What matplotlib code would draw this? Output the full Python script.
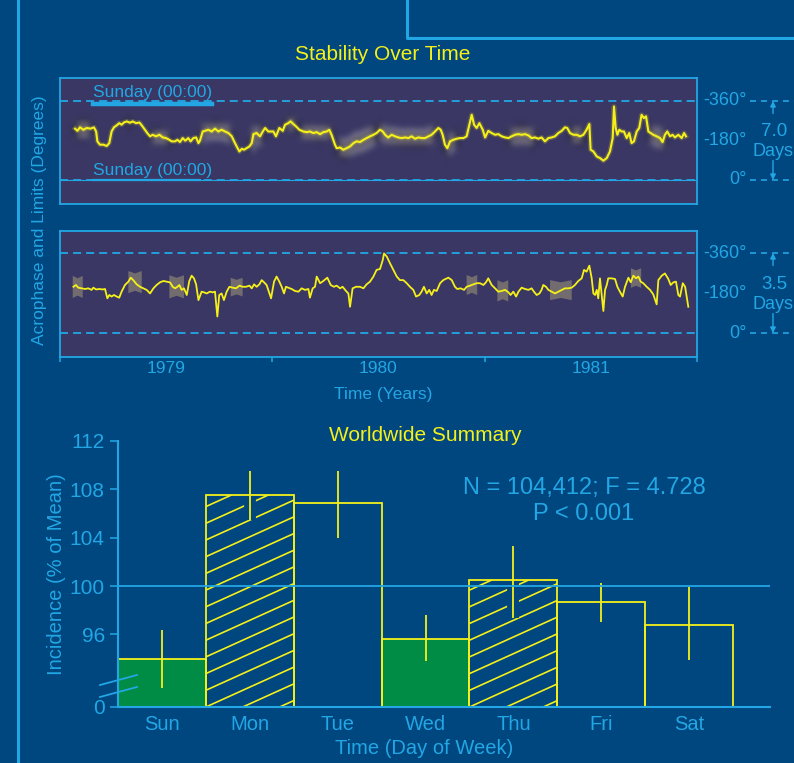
import numpy as np
import matplotlib
matplotlib.use("Agg")
import matplotlib.pyplot as plt
import matplotlib.transforms as mtransforms
import matplotlib.patheffects as pe
from matplotlib.lines import Line2D
from matplotlib.patches import Rectangle, Polygon

plt.rcParams['font.family'] = ['Liberation Sans', 'DejaVu Sans']
plt.rcParams['lines.scale_dashes'] = False

W, H = 794, 763
BG = '#00467f'
PANEL = '#3a3764'
CYAN = '#22a7e4'
YELLOW = '#f5f01a'
GREEN = '#008c44'
BAND = '#7d7670'

# ---------------- 7-day acrophase series (years, degrees) ----------------
t_week = [
    1979.071, 1979.082, 1979.094, 1979.110, 1979.126, 1979.144, 1979.160, 1979.170, 1979.176, 1979.188,
    1979.204, 1979.220, 1979.232, 1979.243, 1979.254, 1979.267, 1979.279, 1979.290, 1979.301, 1979.314,
    1979.330, 1979.342, 1979.358, 1979.374, 1979.385, 1979.400, 1979.411, 1979.424, 1979.436, 1979.452,
    1979.468, 1979.484, 1979.499, 1979.515, 1979.526, 1979.542, 1979.553, 1979.565, 1979.578, 1979.590,
    1979.604, 1979.615, 1979.628, 1979.641, 1979.652, 1979.659, 1979.672, 1979.683, 1979.699, 1979.714,
    1979.730, 1979.746, 1979.761, 1979.777, 1979.793, 1979.809, 1979.820, 1979.832, 1979.845, 1979.856,
    1979.867, 1979.879, 1979.892, 1979.903, 1979.911, 1979.926, 1979.942, 1979.955, 1979.966, 1979.981,
    1980.005, 1980.017, 1980.033, 1980.049, 1980.060, 1980.075, 1980.086, 1980.099, 1980.112, 1980.127,
    1980.146, 1980.162, 1980.177, 1980.193, 1980.209, 1980.225, 1980.240, 1980.256, 1980.268, 1980.279,
    1980.295, 1980.303, 1980.319, 1980.334, 1980.350, 1980.366, 1980.382, 1980.397, 1980.413, 1980.429,
    1980.444, 1980.460, 1980.476, 1980.491, 1980.507, 1980.520, 1980.531, 1980.546, 1980.562, 1980.578,
    1980.593, 1980.609, 1980.625, 1980.641, 1980.656, 1980.672, 1980.688, 1980.703, 1980.719, 1980.735,
    1980.750, 1980.766, 1980.782, 1980.793, 1980.802, 1980.813, 1980.824, 1980.837, 1980.852, 1980.868,
    1980.884, 1980.900, 1980.915, 1980.928, 1980.939, 1980.950, 1980.962, 1980.975, 1980.991, 1981.002,
    1981.017, 1981.033, 1981.049, 1981.064, 1981.080, 1981.096, 1981.112, 1981.127, 1981.143, 1981.159,
    1981.174, 1981.190, 1981.206, 1981.221, 1981.237, 1981.253, 1981.268, 1981.284, 1981.300, 1981.316,
    1981.331, 1981.347, 1981.363, 1981.378, 1981.389, 1981.402, 1981.418, 1981.433, 1981.449, 1981.465,
    1981.480, 1981.493, 1981.499, 1981.512, 1981.528, 1981.543, 1981.559, 1981.575, 1981.590, 1981.603,
    1981.609, 1981.617, 1981.625, 1981.634, 1981.645, 1981.656, 1981.669, 1981.681, 1981.692, 1981.703,
    1981.716, 1981.728, 1981.739, 1981.750, 1981.760, 1981.771, 1981.782, 1981.794, 1981.810, 1981.826,
    1981.838, 1981.849, 1981.860, 1981.873, 1981.885, 1981.896, 1981.912, 1981.928, 1981.939, 1981.948,
]
phase_week = [
    -234, -224, -240, -229, -237, -234, -240, -221, -176, -161,
    -161, -155, -168, -221, -240, -249, -259, -252, -262, -267,
    -261, -267, -259, -262, -249, -229, -214, -199, -206, -199,
    -206, -194, -191, -183, -176, -176, -183, -173, -191, -179,
    -191, -176, -191, -194, -168, -179, -221, -224, -229, -221,
    -234, -221, -229, -221, -214, -199, -176, -153, -130, -142,
    -138, -145, -153, -168, -209, -214, -199, -221, -237, -221,
    -221, -199, -237, -224, -252, -259, -267, -255, -244, -229,
    -221, -218, -221, -214, -218, -209, -218, -221, -229, -206,
    -161, -145, -148, -138, -145, -153, -168, -176, -173, -183,
    -191, -199, -206, -214, -229, -221, -206, -194, -206, -199,
    -194, -191, -194, -191, -199, -188, -194, -191, -191, -199,
    -206, -221, -237, -229, -206, -161, -145, -176, -183, -188,
    -191, -191, -199, -252, -297, -252, -237, -259, -229, -194,
    -224, -214, -206, -209, -199, -194, -191, -199, -206, -209,
    -206, -209, -203, -191, -194, -188, -194, -176, -191, -194,
    -199, -214, -224, -240, -237, -214, -206, -206, -199, -206,
    -229, -255, -138, -130, -107, -100, -88, -100, -130, -191,
    -335, -237, -206, -229, -221, -221, -191, -214, -168, -176,
    -221, -237, -297, -282, -290, -221, -214, -206, -199, -191,
    -173, -206, -221, -199, -206, -194, -206, -191, -214, -199,
]
# confidence-limit spans for the 7-day series: (start, end, half-width in degrees)
week_limits = [
    (1979.063, 1979.157, 40), (1979.306, 1979.338, 30), (1979.424, 1979.518, 30),
    (1979.659, 1979.816, 35), (1979.880, 1979.965, 40), (1980.052, 1980.115, 30),
    (1980.115, 1980.287, 30), (1980.303, 1980.491, 40), (1980.491, 1980.774, 35),
    (1980.805, 1980.868, 40), (1981.104, 1981.245, 40), (1981.394, 1981.465, 40),
    (1981.771, 1981.849, 40),
]

# ---------------- 3.5-day acrophase series (years, degrees) ----------------
t_half = [
    1979.063, 1979.075, 1979.086, 1979.102, 1979.118, 1979.133, 1979.149, 1979.157, 1979.170, 1979.185,
    1979.201, 1979.212, 1979.223, 1979.232, 1979.243, 1979.254, 1979.267, 1979.279, 1979.290, 1979.306,
    1979.322, 1979.333, 1979.345, 1979.361, 1979.377, 1979.393, 1979.408, 1979.424, 1979.440, 1979.455,
    1979.471, 1979.487, 1979.502, 1979.518, 1979.531, 1979.542, 1979.553, 1979.562, 1979.573, 1979.584,
    1979.597, 1979.609, 1979.620, 1979.631, 1979.641, 1979.652, 1979.667, 1979.678, 1979.691, 1979.706,
    1979.719, 1979.730, 1979.741, 1979.750, 1979.761, 1979.772, 1979.785, 1979.798, 1979.813, 1979.829,
    1979.845, 1979.860, 1979.876, 1979.892, 1979.903, 1979.914, 1979.926, 1979.939, 1979.950, 1979.961,
    1979.973, 1979.994, 1980.008, 1980.020, 1980.033, 1980.044, 1980.055, 1980.064, 1980.075, 1980.091,
    1980.107, 1980.123, 1980.138, 1980.154, 1980.170, 1980.177, 1980.190, 1980.201, 1980.209, 1980.225,
    1980.240, 1980.259, 1980.275, 1980.290, 1980.303, 1980.319, 1980.331, 1980.347, 1980.358, 1980.366,
    1980.378, 1980.394, 1980.413, 1980.429, 1980.444, 1980.460, 1980.476, 1980.491, 1980.507, 1980.520,
    1980.526, 1980.539, 1980.554, 1980.570, 1980.586, 1980.601, 1980.617, 1980.633, 1980.648, 1980.664,
    1980.677, 1980.692, 1980.703, 1980.714, 1980.727, 1980.739, 1980.750, 1980.761, 1980.774, 1980.790,
    1980.805, 1980.829, 1980.845, 1980.860, 1980.871, 1980.887, 1980.903, 1980.915, 1980.931, 1980.947,
    1980.962, 1980.978, 1980.994, 1981.006, 1981.017, 1981.033, 1981.049, 1981.064, 1981.080, 1981.096,
    1981.112, 1981.122, 1981.135, 1981.148, 1981.159, 1981.174, 1981.190, 1981.206, 1981.221, 1981.232,
    1981.245, 1981.258, 1981.268, 1981.276, 1981.289, 1981.300, 1981.316, 1981.331, 1981.347, 1981.363,
    1981.378, 1981.394, 1981.410, 1981.425, 1981.441, 1981.457, 1981.468, 1981.480, 1981.493, 1981.504,
    1981.512, 1981.520, 1981.528, 1981.535, 1981.543, 1981.551, 1981.559, 1981.567, 1981.575, 1981.582,
    1981.598, 1981.614, 1981.625, 1981.637, 1981.650, 1981.661, 1981.677, 1981.688, 1981.700, 1981.713,
    1981.724, 1981.735, 1981.747, 1981.763, 1981.779, 1981.794, 1981.810, 1981.818, 1981.834, 1981.849,
    1981.865, 1981.876, 1981.889, 1981.901, 1981.912, 1981.920, 1981.933, 1981.944, 1981.959,
]
phase_half = [
    -208, -216, -204, -201, -198, -201, -194, -204, -196, -198,
    -196, -198, -156, -171, -164, -171, -164, -159, -186, -216,
    -231, -249, -238, -219, -208, -201, -194, -178, -201, -216,
    -228, -234, -231, -228, -208, -201, -208, -216, -194, -201,
    -171, -234, -258, -246, -219, -148, -186, -183, -178, -186,
    -183, -186, -74, -171, -178, -148, -186, -208, -204, -201,
    -213, -208, -208, -213, -201, -219, -208, -219, -238, -228,
    -216, -156, -231, -254, -231, -208, -178, -208, -204, -198,
    -189, -186, -201, -194, -198, -159, -201, -208, -254, -224,
    -234, -249, -216, -208, -213, -201, -208, -189, -178, -118,
    -201, -208, -208, -201, -219, -231, -254, -284, -288, -328,
    -358, -344, -314, -284, -254, -238, -238, -224, -208, -194,
    -164, -171, -186, -208, -178, -194, -171, -194, -189, -224,
    -238, -249, -238, -208, -198, -201, -194, -208, -213, -219,
    -224, -224, -216, -228, -246, -216, -201, -186, -189, -194,
    -183, -171, -186, -164, -186, -204, -198, -194, -201, -186,
    -171, -178, -194, -216, -208, -194, -186, -178, -186, -194,
    -201, -201, -204, -216, -234, -246, -284, -276, -303, -246,
    -178, -171, -194, -156, -246, -171, -99, -194, -216, -246,
    -246, -243, -208, -186, -164, -208, -249, -228, -258, -246,
    -254, -231, -224, -208, -194, -174, -129, -238, -258, -268,
    -243, -216, -228, -231, -171, -164, -224, -208, -118,
]
# confidence-limit markers for the 3.5-day series: (start, end, half-width in degrees)
half_limits = [
    (1979.060, 1979.107, 50), (1979.322, 1979.385, 50), (1979.515, 1979.584, 52),
    (1979.804, 1979.860, 42), (1980.915, 1980.965, 45), (1981.060, 1981.111, 48),
    (1981.308, 1981.410, 45), (1981.689, 1981.737, 44),
]

year_edges = [1979, 1980, 1981, 1982]
year_labels = ['1979', '1980', '1981']
phase_ticks = [-360, -180, 0]
phase_labels = ['-360°', '-180°', '0°']

# ---------------- day-of-week summary ----------------
days = ['Sun', 'Mon', 'Tue', 'Wed', 'Thu', 'Fri', 'Sat']
incidence = [94.0, 107.5, 106.9, 95.6, 100.5, 98.7, 96.8]
ci_low = [91.6, 105.5, 104.0, 93.8, 97.4, 97.0, 93.9]
ci_high = [96.4, 109.5, 109.5, 97.6, 103.3, 100.25, 99.9]
day_style = ['green', 'hatch', 'open', 'green', 'hatch', 'open', 'open']
y_ticks = [90, 96, 100, 104, 108, 112]
y_ticklabels = ['0', '96', '100', '104', '108', '112']


def fx(px):
    return px / W


def fy(py):
    return 1 - py / H


def blur(sigma_px):
    def _f(im, dpi):
        r = int(np.ceil(3 * sigma_px))
        x = np.arange(-r, r + 1)
        k = np.exp(-x ** 2 / (2.0 * sigma_px ** 2))
        k /= k.sum()
        p = np.pad(im, ((r, r), (r, r), (0, 0)))
        p = np.apply_along_axis(lambda m: np.convolve(m, k, mode='same'), 0, p)
        p = np.apply_along_axis(lambda m: np.convolve(m, k, mode='same'), 1, p)
        return p, -r, -r
    return _f


fig = plt.figure(figsize=(W / 100, H / 100), dpi=100, facecolor=BG)

# frame decoration
fig.add_artist(Line2D([fx(17.5), fx(17.5)], [0, 1], color=CYAN, lw=2.2, transform=fig.transFigure))
fig.add_artist(Line2D([fx(407), fx(407), 1.0], [1.0, fy(38), fy(38)], color=CYAN, lw=2.2,
                      transform=fig.transFigure))

dash = (5.8, 3.6)


def phase_panel(ax, ylim, period_text, days_y):
    ax.set_facecolor(PANEL)
    ax.set_xlim(year_edges[0], year_edges[-1])
    ax.set_ylim(*ylim)
    for sp in ax.spines.values():
        sp.set_color(CYAN)
        sp.set_linewidth(1.3)
    ax.set_yticks([])
    ax.axhline(-360, color=CYAN, lw=1.3, dashes=dash, zorder=1)
    ax.axhline(0, color=CYAN, lw=1.3, dashes=dash, zorder=1)
    tr = mtransforms.blended_transform_factory(fig.transFigure, ax.transData)
    for val, lab in zip(phase_ticks, phase_labels):
        ax.text(fx(747), val, lab, transform=tr, ha='right', va='center', color=CYAN,
                fontsize=13, clip_on=False)
    for val in (-360, 0):
        ax.add_line(Line2D([fx(750), 1.0], [val, val], transform=tr, color=CYAN, lw=1.2,
                           dashes=(4.3, 3.6), clip_on=False))
    ax.annotate('', xy=(fx(773), -360), xycoords=tr, xytext=(0, -9), textcoords='offset points',
                arrowprops=dict(arrowstyle='-|>', color=CYAN, lw=1.0, mutation_scale=8,
                                shrinkA=0, shrinkB=0), annotation_clip=False)
    ax.annotate('', xy=(fx(773), 0), xycoords=tr, xytext=(0, 14), textcoords='offset points',
                arrowprops=dict(arrowstyle='-|>', color=CYAN, lw=1.0, mutation_scale=8,
                                shrinkA=0, shrinkB=0), annotation_clip=False)
    fig.text(fx(774), fy(days_y[0]), period_text, ha='center', va='center', color=CYAN, fontsize=13.5)
    fig.text(fx(793), fy(days_y[1]), 'Days', ha='right', va='center', color=CYAN, fontsize=13)


# ---- 7-day panel ----
ax1 = fig.add_axes([fx(60), fy(204), 637 / W, 126 / H])
phase_panel(ax1, (109.4, -464.8), '7.0', (132, 151))
ax1.set_xticks([])
tw = np.array(t_week)
pw = np.array(phase_week)
for a, b, hw in week_limits:
    m = (tw >= a) & (tw <= b)
    band = ax1.fill_between(tw[m], pw[m] - hw, pw[m] + hw, color=BAND, alpha=0.7, lw=0, zorder=2)
    band.set_agg_filter(blur(2.5))
ax1.plot(tw, pw, color=YELLOW, lw=1.5, zorder=3,
         path_effects=[pe.Stroke(linewidth=3.6, foreground=YELLOW, alpha=0.18), pe.Normal()])
ax1.axhline(0, color=CYAN, lw=0.8, zorder=1)
fig.text(fx(93), fy(97), 'Sunday (00:00)', color=CYAN, fontsize=12.5, va='baseline')
fig.text(fx(93), fy(175), 'Sunday (00:00)', color=CYAN, fontsize=12.5, va='baseline')
fig.add_artist(Line2D([fx(93), fx(212)], [fy(103.5), fy(103.5)], color=CYAN, lw=3.2,
                      transform=fig.transFigure))
fig.add_artist(Line2D([fx(93), fx(200)], [fy(180), fy(180)], color=CYAN, lw=1.6,
                      transform=fig.transFigure))

# ---- 3.5-day panel ----
ax2 = fig.add_axes([fx(60), fy(357), 637 / W, 126 / H])
phase_panel(ax2, (108, -459), '3.5', (285, 305))
th = np.array(t_half)
ph = np.array(phase_half)
for a, b, hw in half_limits:
    m = (th >= a) & (th <= b)
    c = ph[m].mean()
    tm = 0.5 * (a + b)
    ax2.add_patch(Polygon([(a, c - hw), (tm, c - 0.78 * hw), (b, c - hw),
                           (b, c + hw), (tm, c + 0.78 * hw), (a, c + hw)],
                          closed=True, facecolor=BAND, edgecolor='none', alpha=0.85, zorder=2))
ax2.plot(th, ph, color=YELLOW, lw=1.3, zorder=3)
ax2.set_xticks(year_edges)
ax2.set_xticklabels([])
ax2.set_xticks([y + 0.5 for y in year_edges[:-1]], minor=True)
ax2.set_xticklabels(year_labels, minor=True)
ax2.tick_params(axis='x', which='major', length=3.6, width=1.1, color=CYAN, direction='out')
ax2.tick_params(axis='x', which='minor', length=0, pad=3, labelsize=12.5, labelcolor=CYAN)

fig.text(fx(383), fy(55), 'Stability Over Time', ha='center', va='center', color=YELLOW, fontsize=15)
fig.text(fx(40), fy(220), 'Acrophase and Limits (Degrees)', rotation=90, ha='center', va='center',
         color=CYAN, fontsize=12.5)
fig.text(fx(383), fy(394), 'Time (Years)', ha='center', va='center', color=CYAN, fontsize=12.5)

# ---------------- bar chart ----------------
axb = fig.add_axes([fx(118), fy(707), 652 / W, 266 / H])
axb.set_facecolor('none')
axb.set_xlim(-0.5, 6.92)
axb.set_ylim(90, 112)
for s in ('top', 'right'):
    axb.spines[s].set_visible(False)
for s in ('left', 'bottom'):
    axb.spines[s].set_color(CYAN)
    axb.spines[s].set_linewidth(1.5)
    axb.spines[s].set_zorder(6)
axb.set_yticks(y_ticks)
axb.set_yticklabels(y_ticklabels)
axb.set_xticks(range(len(days)))
axb.set_xticklabels(days)
axb.tick_params(axis='y', length=5.5, width=1.1, color=CYAN, labelcolor=CYAN, labelsize=15, pad=4)
axb.tick_params(axis='x', length=0, labelcolor=CYAN, labelsize=14.5, pad=6)

axb.axhline(100, color=CYAN, lw=1.3, zorder=5)

px_per = axb.transData.transform((1, 1)) - axb.transData.transform((0, 0))
slope = 0.453 * px_per[0] / px_per[1]
step = 16.7 / px_per[1]
for i, (val, style) in enumerate(zip(incidence, day_style)):
    face = GREEN if style == 'green' else 'none'
    rect = Rectangle((i - 0.5, 90), 1, val - 90, facecolor=face, edgecolor='none', zorder=2)
    axb.add_patch(rect)
    if style == 'hatch':
        k0 = -int(np.ceil(slope / step)) - 1
        k1 = int(np.ceil((val - 90) / step)) + 1
        for k in range(k0, k1):
            ln, = axb.plot([i - 0.5, i + 0.5], [90 + k * step, 90 + k * step + slope],
                           color=YELLOW, lw=1.2, zorder=2.5)
            ln.set_clip_path(rect)
    lo, hi = ci_low[i], ci_high[i]
    effects = [pe.Stroke(linewidth=8.5, foreground=BG), pe.Normal()] if style == 'hatch' else None
    axb.plot([i, i], [lo, hi], color=YELLOW, lw=1.3, zorder=3, solid_capstyle='butt',
             path_effects=effects)
    axb.add_patch(Rectangle((i - 0.5, 90), 1, val - 90, facecolor='none', edgecolor=YELLOW,
                            lw=1.3, zorder=4))

# axis break marks
for yb in (685, 697):
    fig.add_artist(Line2D([fx(100), fx(137)], [fy(yb), fy(yb - 10)], color=CYAN, lw=1.3,
                          transform=fig.transFigure))

fig.text(fx(425), fy(435), 'Worldwide Summary', ha='center', va='center', color=YELLOW, fontsize=15)
fig.text(fx(584), fy(488), 'N = 104,412; F = 4.728', ha='center', va='center', color=CYAN, fontsize=17)
fig.text(fx(584), fy(514), 'P < 0.001', ha='center', va='center', color=CYAN, fontsize=17)
fig.text(fx(424), fy(748), 'Time (Day of Week)', ha='center', va='center', color=CYAN, fontsize=14.5)
fig.text(fx(56), fy(574), 'Incidence (% of Mean)', rotation=90, ha='center', va='center',
         color=CYAN, fontsize=14.5)

fig.savefig('out.png', dpi=100, facecolor=BG)
